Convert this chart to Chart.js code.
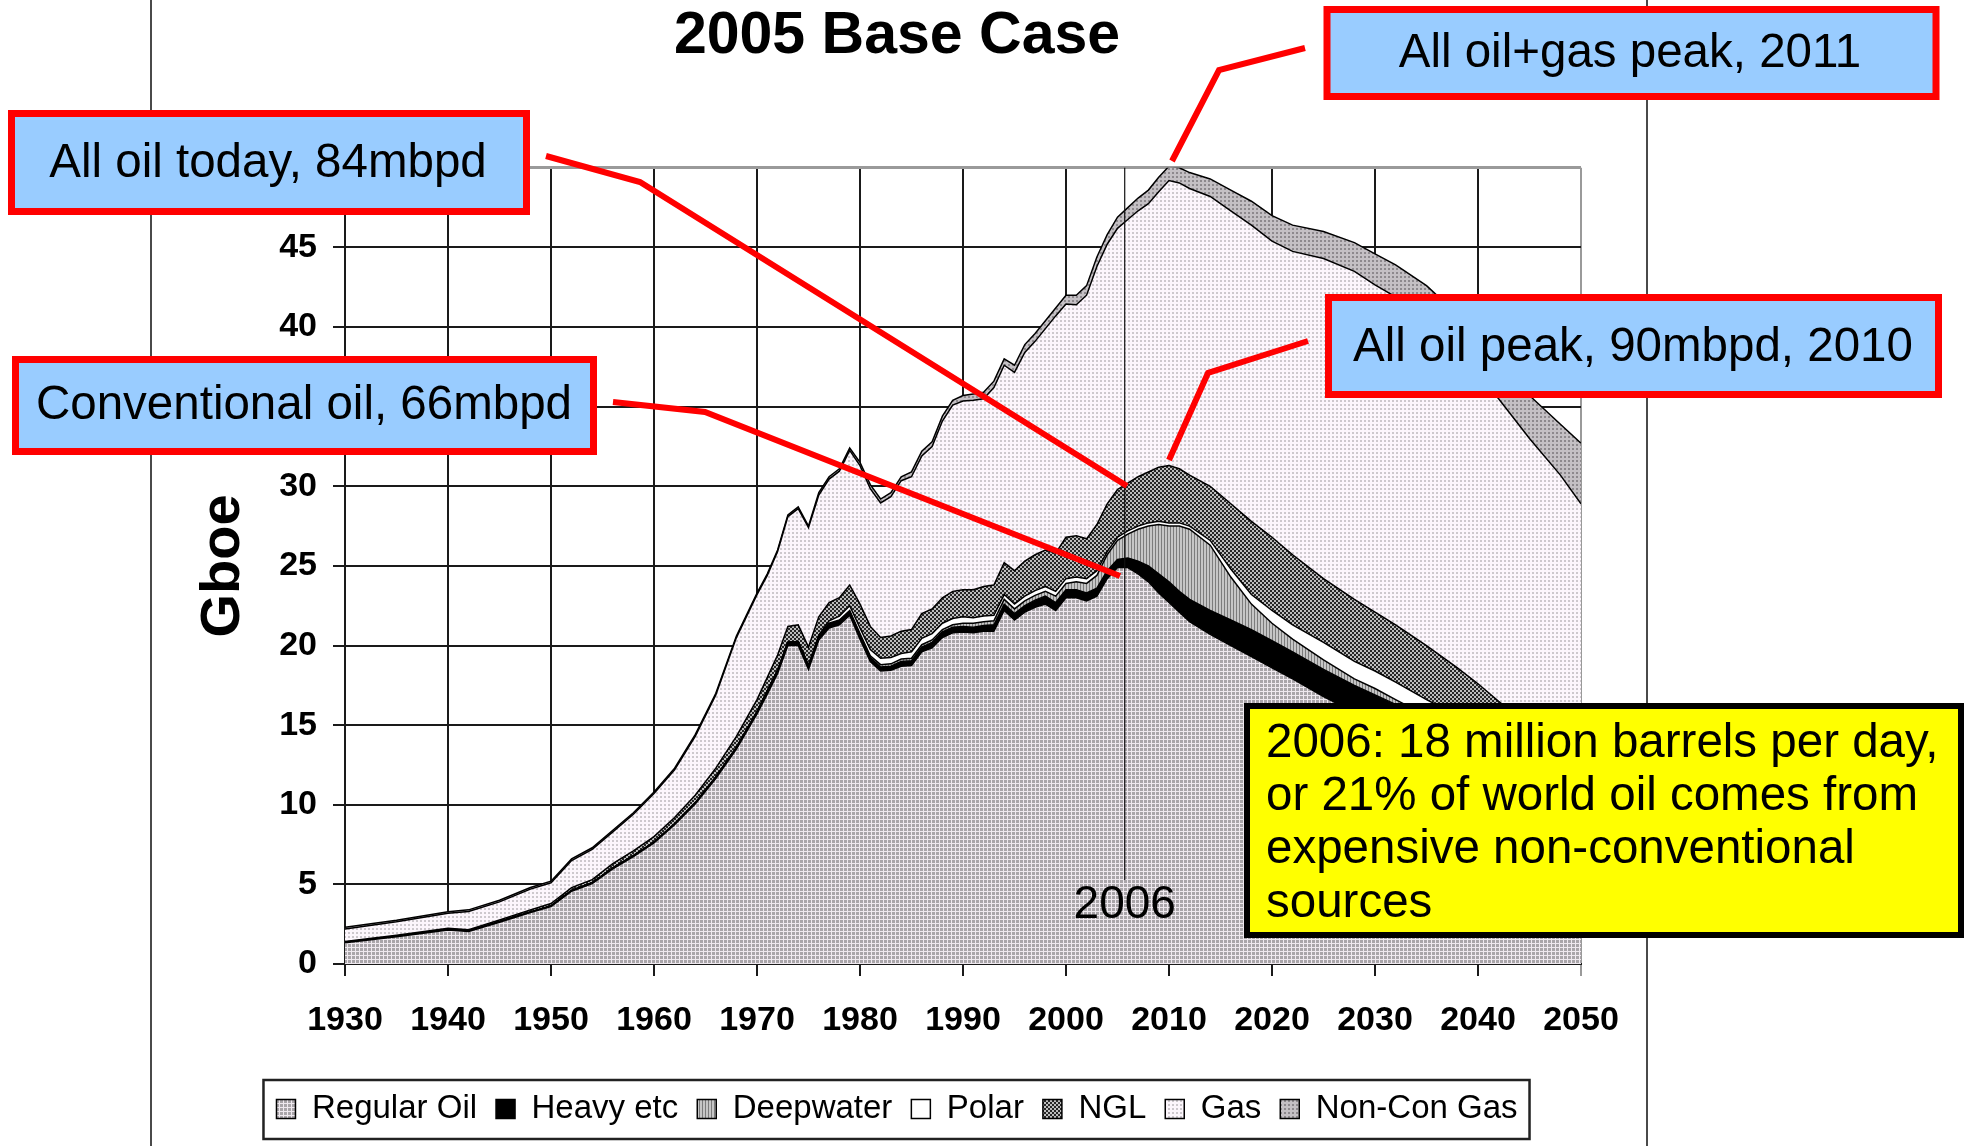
<!DOCTYPE html>
<html><head><meta charset="utf-8">
<script src="https://cdn.jsdelivr.net/npm/chart.js@4.4.1/dist/chart.umd.min.js"></script>
<style>html,body{margin:0;padding:0;background:#fff;}canvas{display:block;}</style>
</head><body>
<canvas id="c" width="1967" height="1146"></canvas>
<script>
// ---- data (Gboe per year); each array is the top of that layer in the stack ----
const years = [1930,1935,1940,1942,1945,1948,1950,1952,1954,1956,1958,1960,1962,1964,1966,1968,
  1970,1971,1972,1973,1974,1975,1976,1977,1978,1979,1980,1981,1982,1983,1984,1985,1986,1987,1988,1989,
  1990,1991,1992,1993,1994,1995,1996,1997,1998,1999,2000,2001,2002,2003,2004,2005,2006,2007,2008,2009,
  2010,2011,2012,2014,2016,2018,2020,2022,2025,2028,2030,2032,2035,2038,2040,2042,2045,2048,2050];

const regularOilTop = [1.34,1.71,2.13,2.04,2.62,3.23,3.6,4.57,5.05,5.98,6.75,7.6,8.75,10.05,11.65,13.5,
  15.7,16.95,18.25,20.0,20.0,18.5,20.35,21.1,21.3,21.9,20.4,19.0,18.4,18.45,18.7,18.75,19.6,19.85,20.5,20.8,
  20.85,20.8,20.9,20.9,22.2,21.6,22.1,22.4,22.6,22.2,23.0,23.0,22.8,23.1,24.2,24.9,24.9,24.5,24.0,23.3,
  22.7,22.1,21.5,20.7,20.0,19.3,18.6,17.9,16.8,15.8,15.2,14.6,13.7,12.8,12.2,11.6,10.8,10.0,9.5];

const heavyTop = [1.37,1.74,2.16,2.07,2.66,3.27,3.65,4.62,5.1,6.03,6.8,7.65,8.8,10.12,11.75,13.6,
  15.85,17.15,18.45,20.2,20.25,18.75,20.6,21.35,21.55,22.15,20.65,19.25,18.65,18.7,19.0,19.05,19.9,20.2,20.85,21.15,
  21.2,21.15,21.25,21.3,22.6,22.0,22.5,22.85,23.1,22.7,23.5,23.5,23.3,23.6,24.7,25.4,25.5,25.3,25.0,24.5,
  24.0,23.4,22.9,22.2,21.6,21.0,20.3,19.6,18.5,17.5,16.9,16.3,15.3,14.4,13.8,13.1,12.3,11.4,10.8];

const deepwaterTop = [1.37,1.74,2.16,2.07,2.66,3.27,3.65,4.62,5.1,6.03,6.8,7.65,8.8,10.12,11.75,13.6,
  15.85,17.15,18.45,20.2,20.25,18.75,20.6,21.4,21.6,22.2,20.75,19.35,18.8,18.85,19.15,19.2,20.05,20.35,21.0,21.3,
  21.4,21.4,21.5,21.55,22.9,22.3,22.8,23.15,23.4,23.1,23.9,24.0,23.9,24.4,25.7,26.6,27.0,27.3,27.5,27.6,
  27.5,27.5,27.3,26.3,24.3,22.6,21.4,20.4,19.1,17.9,17.3,16.6,15.6,14.7,14.1,13.4,12.6,11.7,11.1];

const polarTop = [1.37,1.74,2.16,2.07,2.66,3.27,3.65,4.62,5.1,6.03,6.8,7.65,8.8,10.12,11.75,13.6,
  15.85,17.15,18.45,20.2,20.25,18.75,20.65,21.55,21.85,22.5,21.1,19.75,19.2,19.25,19.5,19.6,20.45,20.75,21.4,21.7,
  21.8,21.75,21.85,21.9,23.2,22.6,23.1,23.45,23.7,23.4,24.2,24.3,24.2,24.7,25.9,26.8,27.2,27.5,27.7,27.8,
  27.7,27.7,27.5,26.6,24.8,23.2,22.2,21.3,20.2,19.0,18.4,17.7,16.6,15.6,15.0,14.3,13.4,12.4,11.8];

const nglTop = [1.42,1.8,2.24,2.15,2.76,3.4,3.8,4.8,5.3,6.3,7.1,8.0,9.2,10.6,12.3,14.3,
  16.6,18.0,19.4,21.2,21.3,19.9,21.8,22.7,23.0,23.8,22.6,21.2,20.5,20.6,20.9,21.0,22.0,22.3,23.0,23.4,
  23.5,23.5,23.7,23.8,25.2,24.7,25.3,25.7,26.0,25.8,26.8,26.9,26.7,27.6,28.9,29.8,30.2,30.6,30.9,31.2,
  31.3,31.1,30.7,30.0,28.9,27.8,26.8,25.7,24.2,22.9,22.1,21.3,20.0,18.6,17.6,16.5,15.0,13.8,13.0];

const gasTop = [2.2,2.65,3.18,3.3,3.9,4.7,5.1,6.5,7.2,8.3,9.4,10.7,12.2,14.3,16.9,20.5,
  23.2,24.4,25.9,28.1,28.6,27.4,29.45,30.45,30.95,32.25,31.3,29.85,28.95,29.35,30.35,30.6,31.9,32.5,34.1,35.1,
  35.35,35.4,35.5,36.2,37.6,37.15,38.4,39.1,39.9,40.7,41.45,41.4,42.0,43.8,45.2,46.2,46.75,47.3,47.75,48.5,
  49.2,49.05,48.7,48.2,47.3,46.4,45.4,44.75,44.3,43.5,42.65,41.9,40.4,38.5,37.1,35.5,33.0,30.7,28.9];

const totalTop = [2.3,2.75,3.28,3.4,4.0,4.8,5.2,6.6,7.3,8.4,9.5,10.8,12.3,14.4,17.0,20.6,
  23.3,24.5,26.0,28.2,28.7,27.5,29.6,30.6,31.1,32.4,31.5,30.1,29.2,29.6,30.6,30.9,32.2,32.8,34.4,35.4,
  35.7,35.8,35.9,36.6,38.0,37.6,38.9,39.6,40.4,41.2,42.0,42.0,42.6,44.4,45.8,46.9,47.5,48.1,48.6,49.4,
  50.1,50.0,49.7,49.3,48.6,47.9,47.0,46.4,46.0,45.3,44.6,43.9,42.6,40.8,39.5,38.0,35.7,33.9,32.7];

const seriesNames = ['Regular Oil','Heavy etc','Deepwater','Polar','NGL','Gas','Non-Con Gas'];
const yTickValues = [0,5,10,15,20,25,30,35,40,45,50];
const xTickValues = [1930,1940,1950,1960,1970,1980,1990,2000,2010,2020,2030,2040,2050];
const markerYear = 2005.7;
const markerLabel = '2006';
const titleText = '2005 Base Case';
const yTitle = 'Gboe';
const callouts = [
  'All oil+gas peak, 2011',
  'All oil today, 84mbpd',
  'All oil peak, 90mbpd, 2010',
  'Conventional oil, 66mbpd'
];
const noteLines = ['2006: 18 million barrels per day,','or 21% of world oil comes from','expensive non-conventional','sources'];

// per-layer values for the stacked chart (difference of successive tops)
const tops = [regularOilTop, heavyTop, deepwaterTop, polarTop, nglTop, gasTop, totalTop];
const layerValues = tops.map((t,k)=>t.map((v,i)=>Math.round((v-(k?tops[k-1][i]:0))*1000)/1000));

// ---- fill textures ----
function pat(w,h,fn){const c=document.createElement('canvas');c.width=w;c.height=h;const g=c.getContext('2d');fn(g);return g.createPattern(c,'repeat');}
const fills = [
  pat(4,4,g=>{g.fillStyle='#efe9ef';g.fillRect(0,0,4,4);g.fillStyle='#a9a5a9';g.fillRect(0,0,3,3);}),
  '#000000',
  pat(3,3,g=>{g.fillStyle='#c6c6c6';g.fillRect(0,0,3,3);g.fillStyle='#7c7c7c';g.fillRect(0,0,1,3);}),
  '#ffffff',
  pat(4,4,g=>{g.fillStyle='#bdbdbd';g.fillRect(0,0,4,4);g.fillStyle='#262626';g.fillRect(0,0,2,2);g.fillRect(2,2,2,2);}),
  pat(4,4,g=>{g.fillStyle='#fcf6fc';g.fillRect(0,0,4,4);g.fillStyle='#cdc8cd';g.fillRect(0,0,2,2);}),
  pat(4,4,g=>{g.fillStyle='#c4c0c4';g.fillRect(0,0,4,4);g.fillStyle='#8d898d';g.fillRect(0,0,2,2);})
];

const FONT = '"Liberation Sans", Arial, Helvetica, sans-serif';
Chart.defaults.font.family = FONT;
Chart.defaults.color = '#000';

const datasets = seriesNames.map((name,k)=>({
  label: name,
  data: years.map((y,i)=>({x:y, y:layerValues[k][i]})),
  backgroundColor: fills[k],
  borderColor: '#000',
  borderWidth: 1.5,
  pointRadius: 0,
  tension: 0,
  fill: k===0 ? 'origin' : '-1'
}));

const overlay = {
  id: 'overlay',
  beforeDraw(chart){
    const c = chart.ctx;
    c.save();
    c.fillStyle='#fff'; c.fillRect(0,0,chart.width,chart.height);
    c.strokeStyle='#4a4a4a'; c.lineWidth=2;
    [151,1647].forEach(x=>{c.beginPath();c.moveTo(x,0);c.lineTo(x,chart.height);c.stroke();});
    c.restore();
  },
  afterDatasetsDraw(chart){
    const c = chart.ctx, xs = chart.scales.x, a = chart.chartArea;
    const px = xs.getPixelForValue(markerYear);
    c.save();
    c.strokeStyle='#111'; c.lineWidth=1.2;
    c.beginPath(); c.moveTo(px,a.top); c.lineTo(px,880); c.stroke();
    c.fillStyle='#000'; c.font='46px '+FONT; c.textAlign='center'; c.textBaseline='middle';
    c.fillText(markerLabel, px, 905);
    c.restore();
  },
  afterDraw(chart){
    const c = chart.ctx;
    c.save();
    // legend frame
    const hb = chart.legend.legendHitBoxes;
    if (hb && hb.length){
      const l = hb[0].left - 13, r = hb[hb.length-1].left + hb[hb.length-1].width + 12;
      const cy = hb[0].top + hb[0].height/2;
      c.strokeStyle='#222'; c.lineWidth=2.5;
      c.strokeRect(l, cy-29, r-l, 59);
    }
    // leader lines
    c.strokeStyle='#ff0000'; c.lineWidth=6; c.lineJoin='miter';
    const leaders = [
      [[1305,48],[1219,70],[1172,161]],
      [[546,156],[640,182],[1127,486]],
      [[1308,341],[1208,373],[1169,460]],
      [[613,402],[705,412],[1120,576]]
    ];
    leaders.forEach(p=>{c.beginPath();c.moveTo(p[0][0],p[0][1]);p.slice(1).forEach(q=>c.lineTo(q[0],q[1]));c.stroke();});
    // callout boxes
    const boxes = [
      {x:1327,y:9.5,w:609,h:87,tx:1630,ty:54},
      {x:11.5,y:113.5,w:515,h:98,tx:268,ty:164},
      {x:1328.5,y:297.5,w:610,h:97,tx:1633,ty:348},
      {x:15.5,y:359.5,w:578,h:92,tx:304,ty:406}
    ];
    c.font='47.5px '+FONT; c.textAlign='center'; c.textBaseline='middle';
    boxes.forEach((b,i)=>{
      c.fillStyle='#99ccff'; c.fillRect(b.x,b.y,b.w,b.h);
      c.strokeStyle='#ff0000'; c.lineWidth=7; c.strokeRect(b.x,b.y,b.w,b.h);
      c.fillStyle='#000'; c.fillText(callouts[i], b.tx, b.ty);
    });
    // yellow note
    c.fillStyle='#ffff00'; c.fillRect(1247,706,714,229);
    c.strokeStyle='#000'; c.lineWidth=6; c.strokeRect(1247,706,714,229);
    c.fillStyle='#000'; c.textAlign='left';
    noteLines.forEach((t,i)=>c.fillText(t, 1266, 744 + i*53.2));
    c.restore();
  }
};

new Chart(document.getElementById('c'), {
  type: 'line',
  data: { datasets },
  options: {
    responsive: false,
    animation: false,
    events: [],
    devicePixelRatio: 1,
    layout: { padding: { left: 213, right: 386, top: 0, bottom: 10.5 } },
    scales: {
      x: {
        type: 'linear',
        min: xTickValues[0], max: xTickValues[xTickValues.length-1],
        afterBuildTicks: s => { s.ticks = xTickValues.map(v=>({value:v})); },
        afterFit: s => { s.height = 109.5; },
        ticks: { font: { size: 34, weight: 'bold' }, color: '#000', padding: 24, maxRotation: 0,
                 callback: v => String(v) },
        grid: { color: c => c.tick && c.tick.value === 2050 ? '#9a9a9a' : '#1a1a1a', lineWidth: 2, tickLength: 12 },
        border: { display: true, color: '#1a1a1a', width: 2 }
      },
      y: {
        stacked: true,
        min: yTickValues[0], max: yTickValues[yTickValues.length-1],
        afterBuildTicks: s => { s.ticks = yTickValues.map(v=>({value:v})); },
        afterFit: s => { s.width = 132; },
        ticks: { font: { size: 34, weight: 'bold' }, color: '#000', padding: 16 },
        grid: { color: c => c.tick && c.tick.value === 50 ? '#9a9a9a' : '#1a1a1a', lineWidth: c => c.tick && c.tick.value === 50 ? 3 : 2, tickLength: 12 },
        border: { display: true, color: '#1a1a1a', width: 2 },
        title: { display: true, text: yTitle, font: { size: 56, weight: 'bold' }, color: '#000', padding: { top: -23, bottom: 0 } }
      }
    },
    plugins: {
      title: { display: true, text: titleText, font: { size: 59, weight: 'bold' }, color: '#000', padding: { top: 1, bottom: 96 } },
      legend: {
        position: 'bottom',
        labels: { font: { size: 33 }, color: '#000', boxWidth: 19, boxHeight: 19, padding: 19 }
      },
      tooltip: { enabled: false }
    }
  },
  plugins: [overlay]
});
</script>
</body></html>
